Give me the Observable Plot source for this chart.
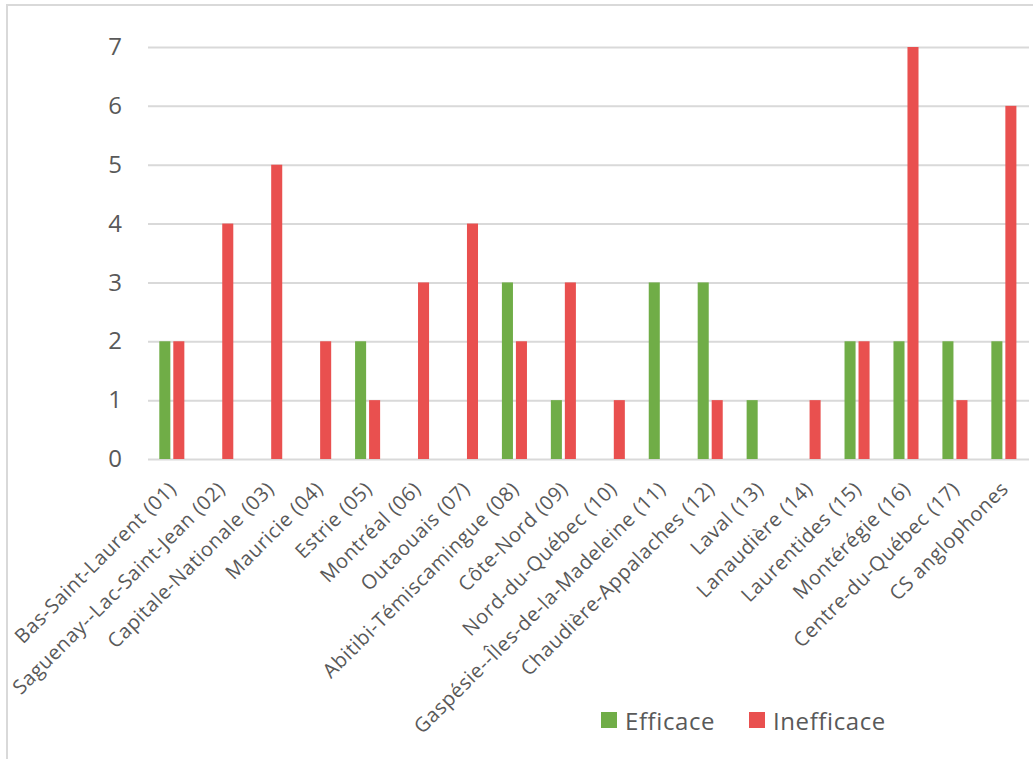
<!DOCTYPE html>
<html>
<head>
<meta charset="utf-8">
<script src="https://cdn.jsdelivr.net/npm/d3@7"></script>
<script src="https://cdn.jsdelivr.net/npm/@observablehq/plot@0.6"></script>
<style>
  html, body { margin: 0; padding: 0; background: #fff; width: 1033px; height: 759px; overflow: hidden; }
  #chart { position: absolute; left: 0; top: 0; }
  #chart svg { overflow: visible; }
  #chart svg text { letter-spacing: 0.6px; }
  #frame { position: absolute; left: 6px; top: 4px; width: 1100px; height: 800px; border: 2px solid #d9d9d9; pointer-events: none; z-index: 5; }
  #legend { position: absolute; top: 703px; left: 0; width: 1033px; height: 34px; font-family: "Open Sans", sans-serif; font-size: 24px; letter-spacing: 0.6px; color: #595959; }
  .item { position: absolute; top: 0; display: flex; align-items: center; height: 34px; }
  .sw { width: 16px; height: 16px; margin-right: 8px; }
</style>
</head>
<body>
<div id="chart"></div>
<div id="legend"></div>
<div id="frame"></div>
<script>
const regions = [
  "Bas-Saint-Laurent (01)",
  "Saguenay--Lac-Saint-Jean (02)",
  "Capitale-Nationale (03)",
  "Mauricie (04)",
  "Estrie (05)",
  "Montréal (06)",
  "Outaouais (07)",
  "Abitibi-Témiscamingue (08)",
  "Côte-Nord (09)",
  "Nord-du-Québec (10)",
  "Gaspésie--Îles-de-la-Madeleine (11)",
  "Chaudière-Appalaches (12)",
  "Laval (13)",
  "Lanaudière (14)",
  "Laurentides (15)",
  "Montérégie (16)",
  "Centre-du-Québec (17)",
  "CS anglophones"
];
const efficace   = [2,0,0,0,2,0,0,3,1,0,3,3,1,0,2,2,2,2];
const inefficace = [2,4,5,2,1,3,4,2,3,1,0,1,0,1,2,7,1,6];
const seriesNames = ["Efficace", "Inefficace"];
const seriesColors = ["#70AD47", "#E9504F"];
const yTicks = [0,1,2,3,4,5,6,7];

const dataE = regions.map((r, i) => ({region: r, value: efficace[i]})).filter(d => d.value > 0);
const dataI = regions.map((r, i) => ({region: r, value: inefficace[i]})).filter(d => d.value > 0);

const chart = Plot.plot({
  width: 1033,
  height: 700,
  marginLeft: 148,
  marginRight: 4,
  marginTop: 47,
  marginBottom: 241,
  style: {background: "transparent", fontFamily: "'Open Sans', sans-serif", color: "#595959", overflow: "visible"},
  x: {domain: regions, padding: 0, round: false},
  y: {domain: [0, 7]},
  marks: [
    Plot.gridY(yTicks, {stroke: "#d9d9d9", strokeOpacity: 1, strokeWidth: 2}),
    Plot.barY(dataE, {x: "region", y: "value", fill: seriesColors[0], insetLeft: 11.3, insetRight: 26.6}),
    Plot.barY(dataI, {x: "region", y: "value", fill: seriesColors[1], insetLeft: 25.3, insetRight: 12.6}),
    Plot.axisY({ticks: yTicks, tickFormat: d => String(d), tickSize: 0, tickPadding: 26, fontSize: 24, label: null, fill: "#595959"}),
    Plot.axisX({tickRotate: -45, tickSize: 0, tickPadding: 26, fontSize: 20, label: null, fill: "#595959"})
  ]
});
document.getElementById("chart").appendChild(chart);

const legend = document.getElementById("legend");
const legendX = [601, 749];
seriesNames.forEach((name, i) => {
  const item = document.createElement("div");
  item.className = "item";
  item.style.left = legendX[i] + "px";
  const sw = document.createElement("div");
  sw.className = "sw";
  sw.style.background = seriesColors[i];
  const t = document.createElement("span");
  t.textContent = name;
  item.appendChild(sw);
  item.appendChild(t);
  legend.appendChild(item);
});
</script>
</body>
</html>
